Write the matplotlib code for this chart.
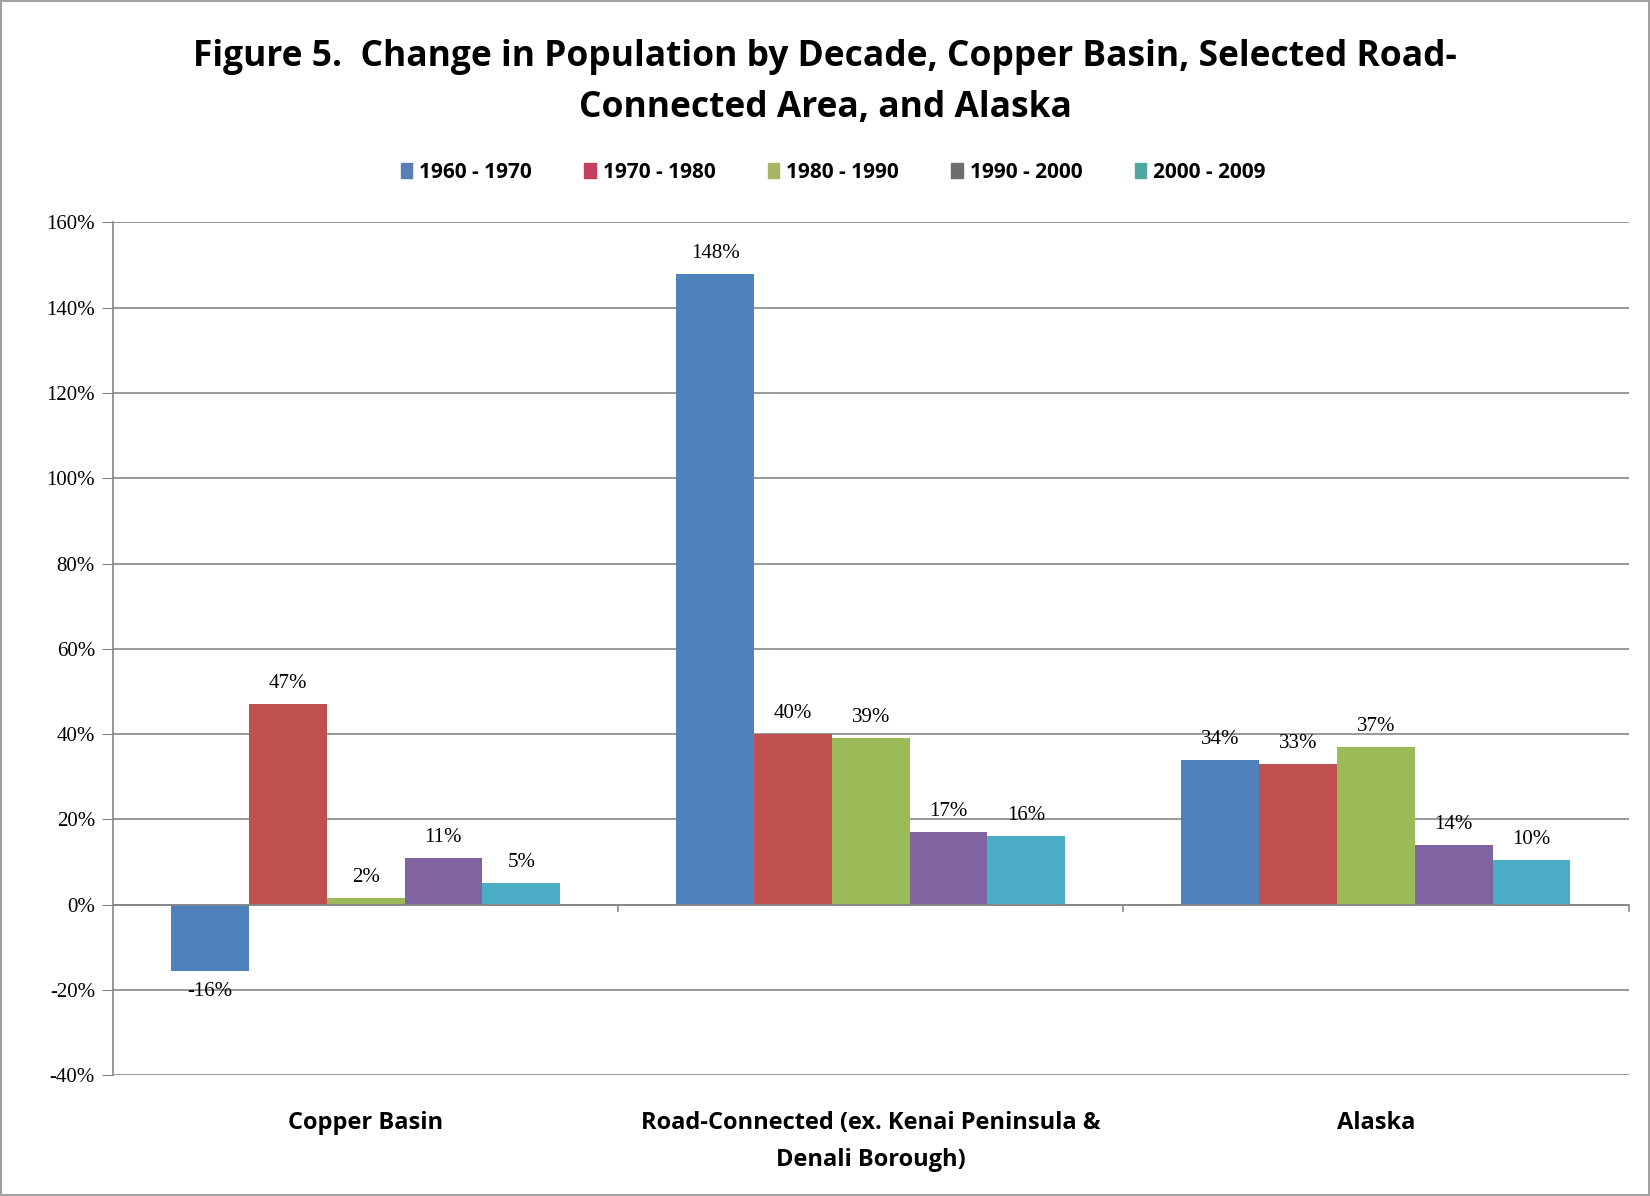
import matplotlib.pyplot as plt
import numpy as np
from matplotlib.patches import Patch

# Data
regions = ['Copper Basin', 'Road-Connected (ex. Kenai Peninsula &\nDenali Borough)', 'Alaska']
decades = ['1960 - 1970', '1970 - 1980', '1980 - 1990', '1990 - 2000', '2000 - 2009']
change_1960 = [-15.6, 148, 34]
change_1970 = [47, 40, 33]
change_1980 = [1.6, 39, 37]
change_1990 = [11, 17, 14]
change_2000 = [5, 16, 10.4]
series = [change_1960, change_1970, change_1980, change_1990, change_2000]

bar_colors = ['#4f81bd', '#c0504d', '#9bbb59', '#8064a2', '#4bacc6']
legend_colors = ['#5a7db5', '#c4415e', '#a9b565', '#6e6e6e', '#4fa9a2']

fig = plt.figure(figsize=(16.5, 11.96), dpi=100)
fig.patch.set_edgecolor('#a0a0a0')
fig.patch.set_linewidth(1.5)
ax = fig.add_axes([0.0685, 0.101, 0.9185, 0.713])

x = np.arange(len(regions))
width = 0.154
for i, vals in enumerate(series):
    pos = x + (i - 2) * width
    ax.bar(pos, vals, width, color=bar_colors[i], zorder=3)
    for px, v in zip(pos, vals):
        if v >= 0:
            ax.annotate(f'{v:.0f}%', (px, v), xytext=(0, 8), textcoords='offset points',
                        ha='center', va='bottom', fontsize=15, family='Liberation Serif')
        else:
            ax.annotate(f'{v:.0f}%', (px, v), xytext=(0, -8), textcoords='offset points',
                        ha='center', va='top', fontsize=15, family='Liberation Serif')

ax.set_xlim(-0.5, 2.5)
ax.set_ylim(-40, 160)
ax.set_yticks(range(-40, 161, 20))
ax.set_yticklabels([f'{t}%' for t in range(-40, 161, 20)], family='Liberation Serif', fontsize=15)
ax.yaxis.grid(True, color='#868686', linewidth=1.2, zorder=0)
ax.tick_params(axis='y', length=8, color='#868686', pad=5)

ax.set_xticks(x)
ax.set_xticklabels(regions, fontsize=17, fontweight='bold', family='Open Sans',
                   linespacing=1.7)
ax.tick_params(axis='x', length=0, pad=26)
for b in [0.5, 1.5, 2.5]:
    ax.plot([b, b], [0, -1.5], color='#868686', linewidth=1.2, clip_on=False, zorder=4)
ax.axhline(0, color='#868686', linewidth=1.2, zorder=4)

for s in ['top', 'right', 'bottom']:
    ax.spines[s].set_visible(False)
ax.spines['left'].set_color('#868686')
ax.spines['left'].set_linewidth(1.2)

fig.text(0.5, 0.931, 'Figure 5.  Change in Population by Decade, Copper Basin, Selected Road-\nConnected Area, and Alaska',
         ha='center', va='center', fontsize=25.5, fontweight='bold', family='Open Sans',
         linespacing=1.58)

handles = [Patch(color=c, label=d) for c, d in zip(legend_colors, decades)]
fig.legend(handles=handles, loc='center', bbox_to_anchor=(0.505, 0.856), ncol=5,
           frameon=False, prop={'family': 'Open Sans', 'weight': 'bold', 'size': 15},
           handlelength=0.55, handleheight=0.7, handletextpad=0.35, columnspacing=2.5)

plt.savefig('out.png', dpi=100)
